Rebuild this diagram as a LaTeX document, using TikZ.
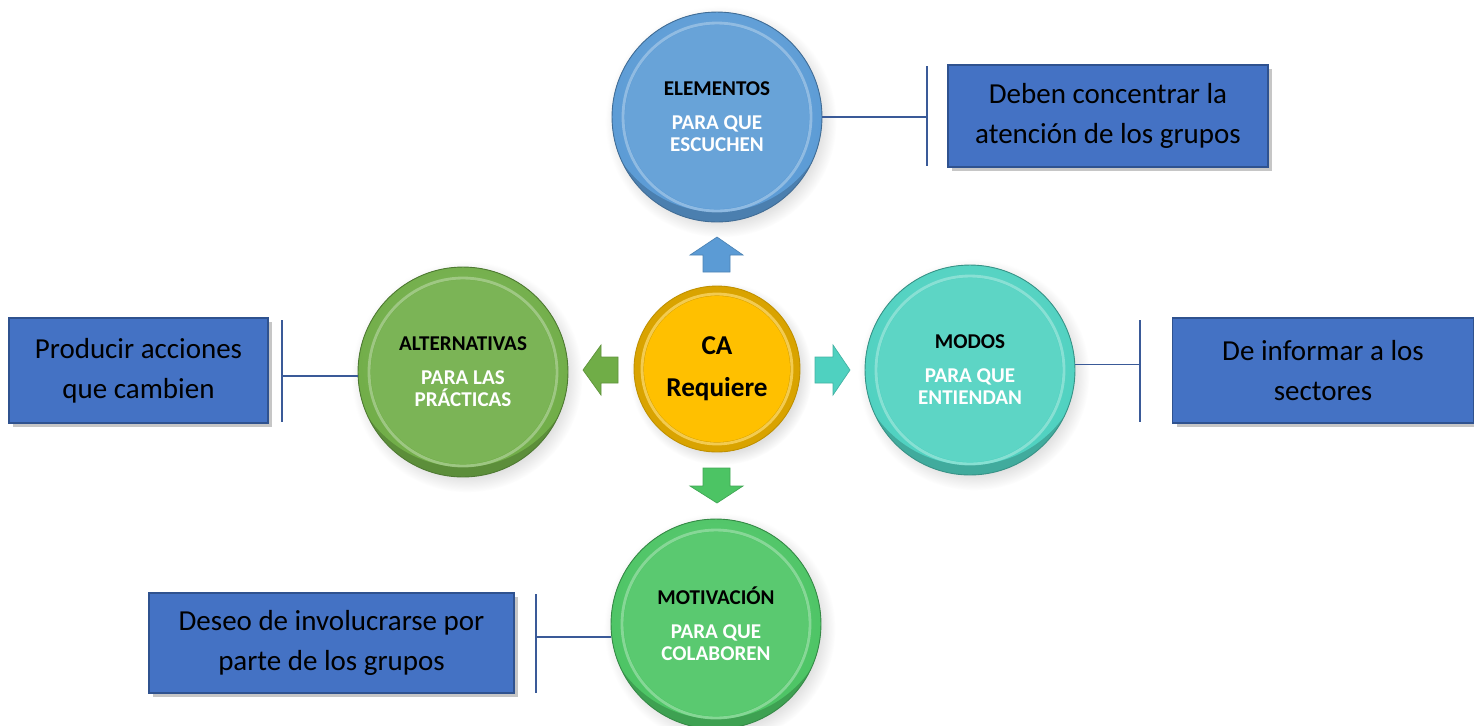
\documentclass[tikz,border=0pt]{standalone}
\usepackage{fontspec}
\setmainfont{Carlito}
\usetikzlibrary{shadows}
\definecolor{cblue}{HTML}{5B9BD5}
\definecolor{cyel}{HTML}{FFC000}
\definecolor{cgreen}{HTML}{70AD47}
\definecolor{cteal}{HTML}{4FD1C0}
\definecolor{cgreentwo}{HTML}{4CC464}
\definecolor{boxblue}{HTML}{4472C4}
\definecolor{boxedge}{HTML}{2F528F}
\definecolor{linec}{HTML}{3A5A98}
\tikzset{
  ballbase/.style={circle, inner sep=0pt, align=center,
    circular drop shadow={shadow xshift=2pt, shadow yshift=-2.5pt, opacity=0.25}},
  bigball/.style={ballbase, minimum size=4.2cm, fill=#1!82!black, draw=#1!70!black, line width=0.5pt,
    font=\bfseries\fontsize{12}{12.5}\selectfont,
    path picture={
      \shade[inner color=#1!85!white, outer color=#1]
        ([yshift=0.4cm]path picture bounding box.center) circle[radius=2.3cm];
      \draw[#1!55!white, line width=1.6pt, opacity=0.7]
        (path picture bounding box.center) circle[radius=1.88cm];
      \fill[#1!92!white]
        (path picture bounding box.center) circle[radius=1.84cm];
    }},
  smallball/.style={ballbase, minimum size=3.32cm, fill=#1!85!black, draw=#1!75!black, line width=0.5pt,
    font=\bfseries\fontsize{15.5}{24}\selectfont,
    path picture={
      \draw[#1!55!white, line width=1.6pt, opacity=0.7]
        (path picture bounding box.center) circle[radius=1.5cm];
      \fill[#1]
        (path picture bounding box.center) circle[radius=1.46cm];
    }},
  infobox/.style={rectangle, fill=boxblue, draw=boxedge, line width=0.8pt, inner sep=0pt,
    align=center, font=\fontsize{16.5}{23}\selectfont,
    drop shadow={shadow xshift=2.5pt, shadow yshift=-2.5pt, opacity=0.45}},
  link/.style={draw=linec, line width=1.1pt},
  blockarrow/.style={fill=#1, draw=#1!85!black, line width=0.4pt}
}
\newcommand{\subt}[1]{\textcolor{white}{#1}}
\begin{document}
\begin{tikzpicture}[x=0.02cm, y=-0.02cm]
\useasboundingbox (0,0) rectangle (1474,725);

% circles
\node[bigball=cblue] (elem) at (717,117)
  {ELEMENTOS\\[6.8pt]\subt{PARA QUE}\\\subt{ESCUCHEN}};
\node[bigball=cgreen] (alt) at (463,372)
  {ALTERNATIVAS\\[6.8pt]\subt{PARA LAS}\\\subt{PRÁCTICAS}};
\node[bigball=cteal] (modos) at (970,370)
  {MODOS\\[6.8pt]\subt{PARA QUE}\\\subt{ENTIENDAN}};
\node[bigball=cgreentwo] (motiv) at (716,624)
  {MOTIVACIÓN\\[6.8pt]\subt{PARA QUE}\\\subt{COLABOREN}};
\node[smallball=cyel] (ca) at (717,369) {CA\\Requiere};

% block arrows
\path[blockarrow=cblue] (717,237) -- (743,255) -- (730,255) -- (730,272) -- (703,272) -- (703,255) -- (690,255) -- cycle;
\path[blockarrow=cgreentwo] (717,503) -- (743,486) -- (730,486) -- (730,468) -- (703,468) -- (703,486) -- (690,486) -- cycle;
\path[blockarrow=cteal] (850,370) -- (833,345) -- (833,357) -- (815,357) -- (815,383) -- (833,383) -- (833,395) -- cycle;
\path[blockarrow=cgreen] (583,370) -- (601,345) -- (601,357) -- (618,357) -- (618,383) -- (601,383) -- (601,395) -- cycle;

% boxes
\node[infobox, minimum width=6.4cm, minimum height=2.04cm] (b1) at (1108,116)
  {Deben concentrar la\\atención de los grupos};
\node[infobox, minimum width=6.02cm, minimum height=2.1cm] (b2) at (1323,370.5)
  {De informar a los\\sectores};
\node[infobox, minimum width=5.18cm, minimum height=2.1cm] (b3) at (138.5,370.5)
  {Producir acciones\\que cambien};
\node[infobox, minimum width=7.3cm, minimum height=2cm] (b4) at (331.5,643)
  {Deseo de involucrarse por\\parte de los grupos};

% brackets
\coordinate (t1) at (927,66);  \coordinate (t2) at (927,166);
\coordinate (r1) at (1140,320); \coordinate (r2) at (1140,422);
\coordinate (l1) at (282,320);  \coordinate (l2) at (282,422);
\coordinate (d1) at (536,594);  \coordinate (d2) at (536,693);
\draw[link] (t1) -- (t2);
\draw[link] (r1) -- (r2);
\draw[link] (l1) -- (l2);
\draw[link] (d1) -- (d2);
\draw[link] (elem.east) -- (elem.east -| t1);
\draw[link] (modos.{3}) -- (modos.{3} -| r1);
\draw[link] (alt.{182}) -- (alt.{182} -| l1);
\draw[link] (motiv.{187}) -- (motiv.{187} -| d1);
\end{tikzpicture}
\end{document}
